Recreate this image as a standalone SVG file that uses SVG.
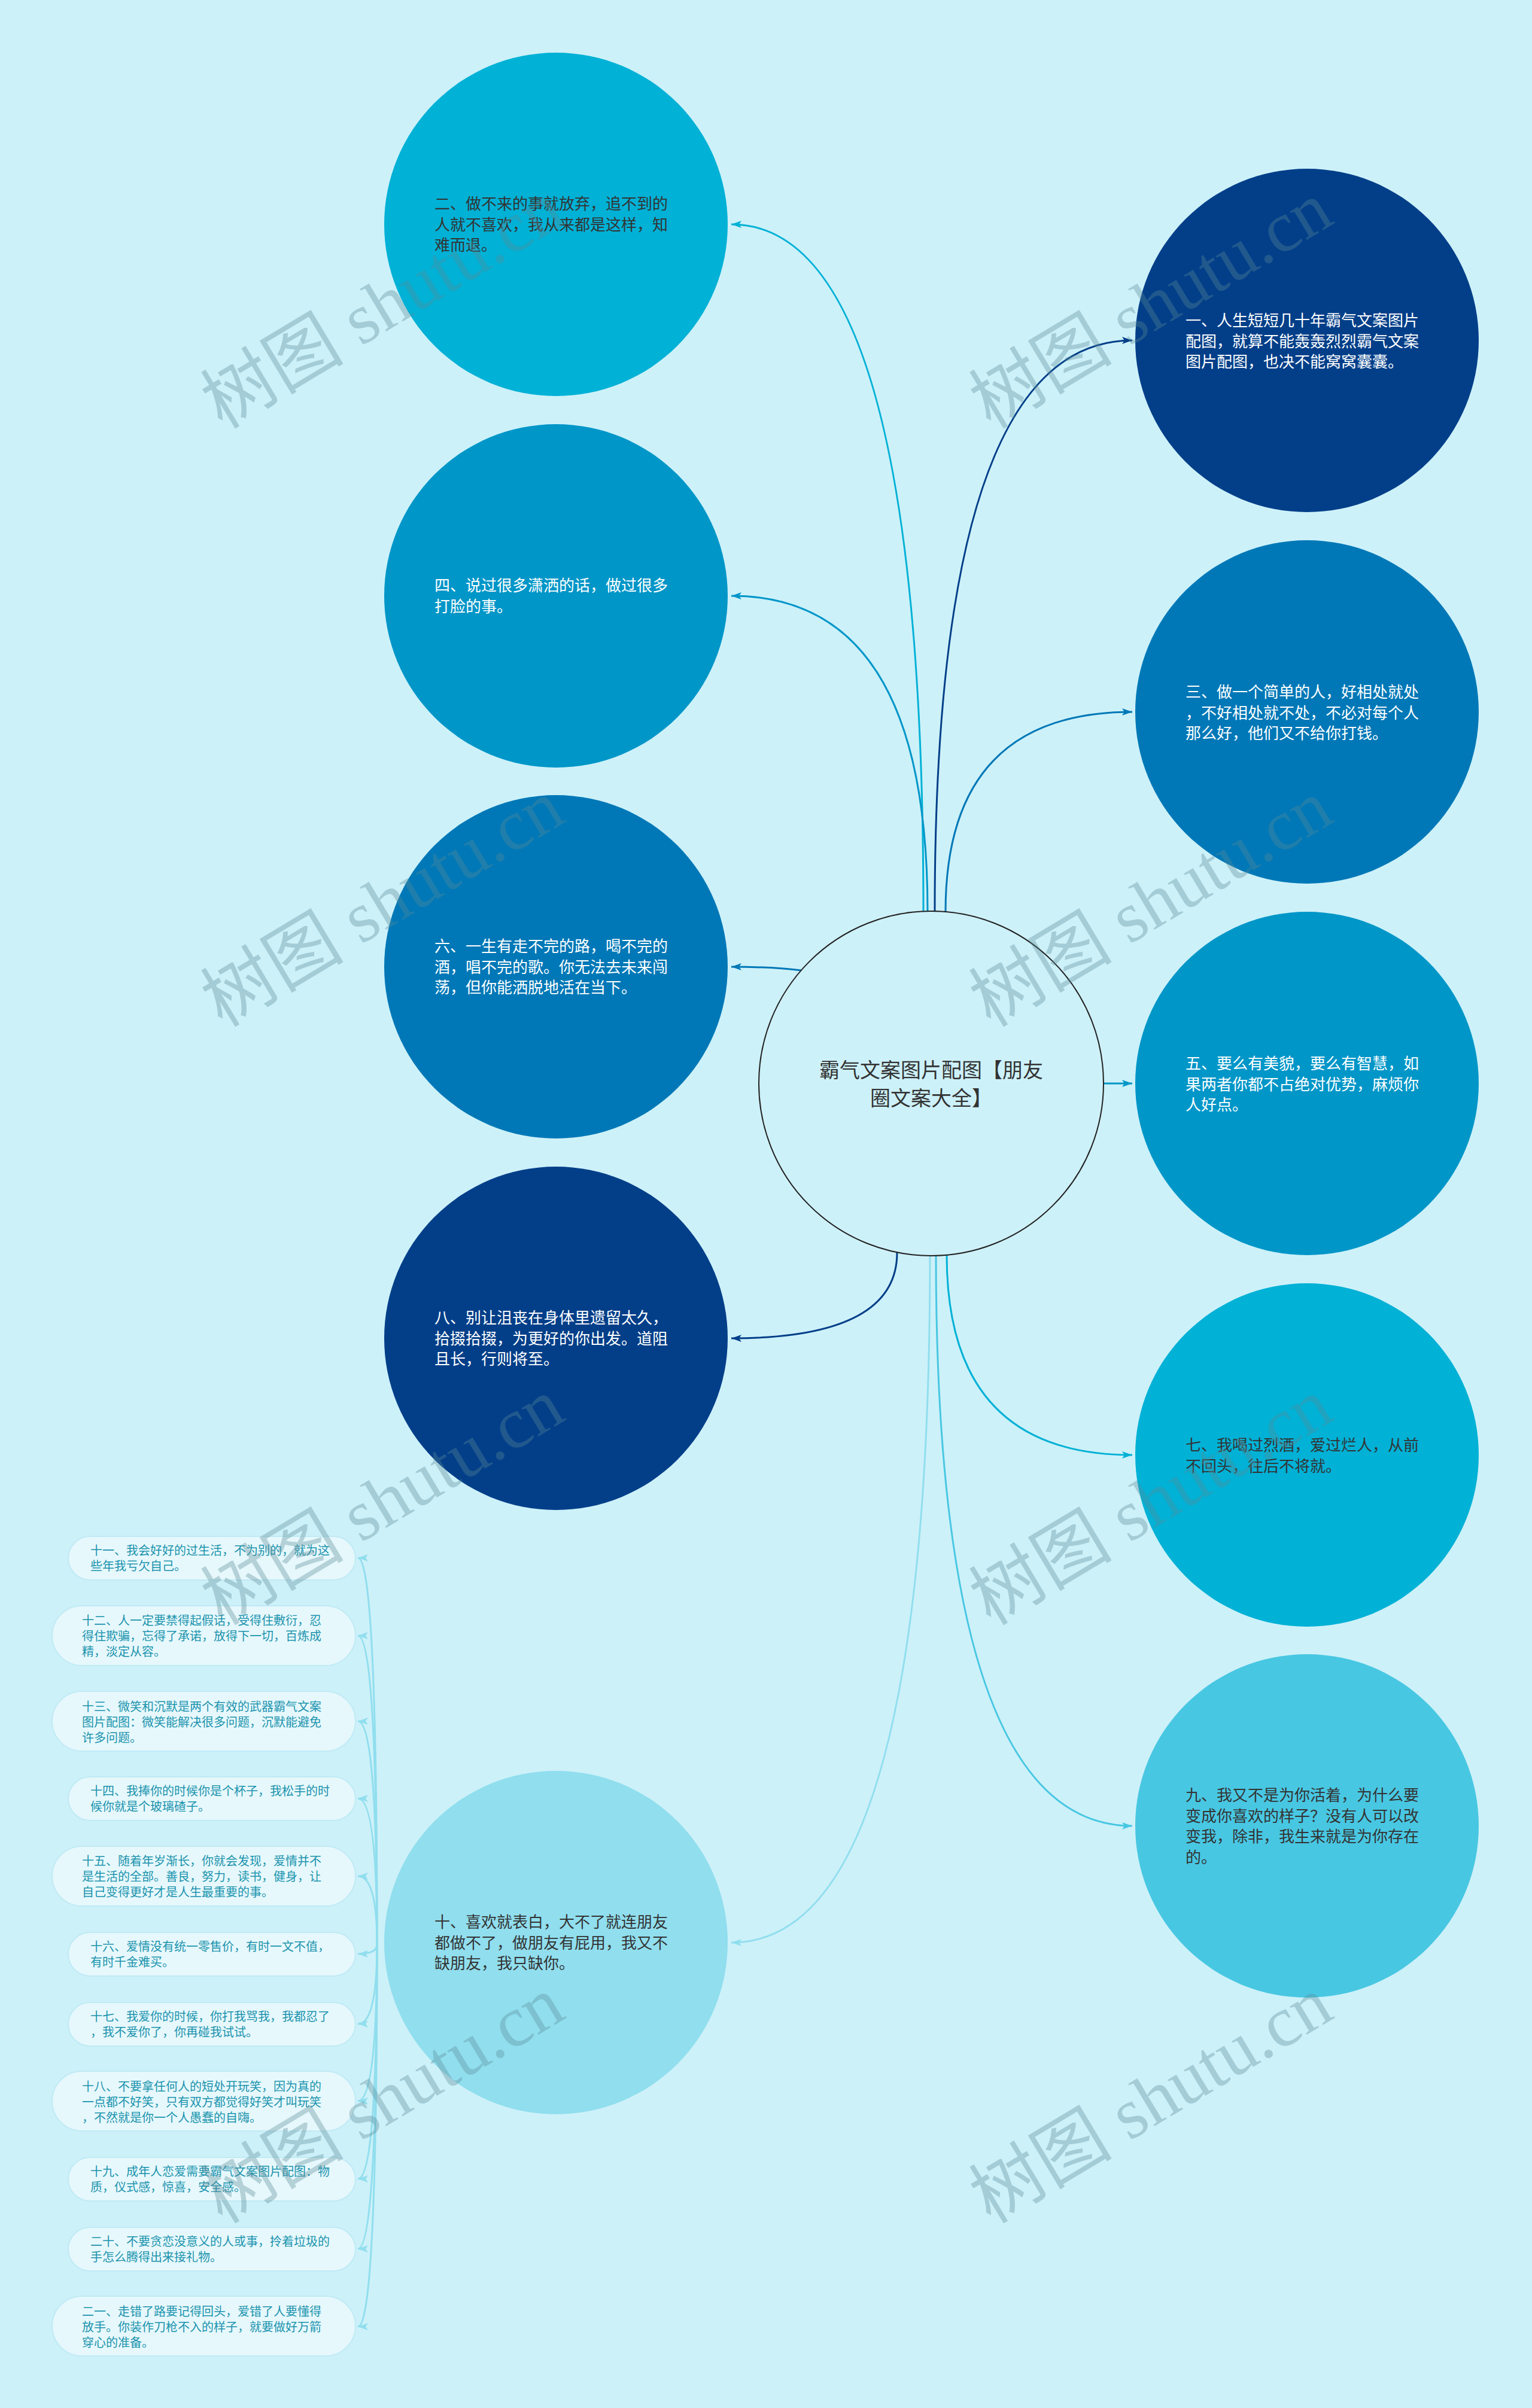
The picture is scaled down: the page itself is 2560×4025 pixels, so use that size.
<svg xmlns="http://www.w3.org/2000/svg" width="2560" height="4025" viewBox="0 0 2560 4025">
<style>
.bg{fill:#cdf1f9}
.t{font-family:"Noto Sans CJK SC","Noto Sans",sans-serif;font-size:26px}
.w{fill:#ffffff}
.d{fill:#333333}
.title{font-family:"Noto Sans CJK SC","Noto Sans",sans-serif;font-size:34px;fill:#333333}
.pill{fill:#e6f8fc;stroke:#bfeaf5;stroke-width:2}
.pt{font-family:"Noto Sans CJK SC","Noto Sans",sans-serif;font-size:20px;fill:#1b93ad}
.c{fill:none;stroke-width:3}
.wm{font-family:"Liberation Serif","Noto Sans CJK SC",serif;font-size:120px;fill:#5a8a96;opacity:0.35}
</style>
<defs>
<marker id="m1" viewBox="0 0 17 12" markerWidth="17" markerHeight="12" refX="17" refY="6" orient="auto" markerUnits="userSpaceOnUse"><path d="M0,0 L17,6 L0,12 L4,6 z" fill="#01b1d6"/></marker>
<marker id="m2" viewBox="0 0 17 12" markerWidth="17" markerHeight="12" refX="17" refY="6" orient="auto" markerUnits="userSpaceOnUse"><path d="M0,0 L17,6 L0,12 L4,6 z" fill="#0096c8"/></marker>
<marker id="m3" viewBox="0 0 17 12" markerWidth="17" markerHeight="12" refX="17" refY="6" orient="auto" markerUnits="userSpaceOnUse"><path d="M0,0 L17,6 L0,12 L4,6 z" fill="#0078b7"/></marker>
<marker id="m4" viewBox="0 0 17 12" markerWidth="17" markerHeight="12" refX="17" refY="6" orient="auto" markerUnits="userSpaceOnUse"><path d="M0,0 L17,6 L0,12 L4,6 z" fill="#033f89"/></marker>
<marker id="m5" viewBox="0 0 17 12" markerWidth="17" markerHeight="12" refX="17" refY="6" orient="auto" markerUnits="userSpaceOnUse"><path d="M0,0 L17,6 L0,12 L4,6 z" fill="#48c7e2"/></marker>
<marker id="m6" viewBox="0 0 17 12" markerWidth="17" markerHeight="12" refX="17" refY="6" orient="auto" markerUnits="userSpaceOnUse"><path d="M0,0 L17,6 L0,12 L4,6 z" fill="#90deee"/></marker>
</defs>
<rect class="bg" x="0" y="0" width="2560" height="4025"/>

<g id="connectors">
<path class="c" stroke="#01b1d6" marker-end="url(#m1)" d="M1543 1524 Q1543 375 1222 375"/>
<path class="c" stroke="#0096c8" marker-end="url(#m2)" d="M1550 1523 Q1550 996 1222 996"/>
<path class="c" stroke="#0078b7" marker-end="url(#m3)" d="M1339 1622 Q1290 1616 1222 1616"/>
<path class="c" stroke="#033f89" marker-end="url(#m4)" d="M1499 2094 Q1499 2237 1222 2237"/>
<path class="c" stroke="#90deee" marker-end="url(#m6)" d="M1554 2099 Q1554 3247 1222 3247"/>
<path class="c" stroke="#033f89" marker-end="url(#m4)" d="M1562 1523 Q1562 569 1892 569"/>
<path class="c" stroke="#0078b7" marker-end="url(#m3)" d="M1580 1524 Q1580 1190 1892 1190"/>
<path class="c" stroke="#0096c8" marker-end="url(#m2)" d="M1845 1811 L1892 1811"/>
<path class="c" stroke="#01b1d6" marker-end="url(#m1)" d="M1582 2098 Q1582 2432 1892 2432"/>
<path class="c" stroke="#48c7e2" marker-end="url(#m5)" d="M1564 2099 Q1564 3052 1892 3052"/>
<g stroke="#90deee" class="c" marker-end="url(#m6)">
<path class="c" d="M630 3250 Q630 2604 598 2604"/>
<path class="c" d="M630 3250 Q630 2734 598 2734"/>
<path class="c" d="M630 3250 Q630 2877 598 2877"/>
<path class="c" d="M630 3250 Q630 3006 598 3006"/>
<path class="c" d="M630 3250 Q630 3136 598 3136"/>
<path class="c" d="M630 3250 Q630 3266 598 3266"/>
<path class="c" d="M630 3250 Q630 3383 598 3383"/>
<path class="c" d="M630 3250 Q630 3512 598 3512"/>
<path class="c" d="M630 3250 Q630 3642 598 3642"/>
<path class="c" d="M630 3250 Q630 3759 598 3759"/>
<path class="c" d="M630 3250 Q630 3889 598 3889"/>
</g>
</g>

<g id="center">
<circle cx="1556" cy="1811" r="288" fill="#cdf1f9" stroke="#222222" stroke-width="2"/>
<text class="title" text-anchor="middle"><tspan x="1556" y="1801">霸气文案图片配图【朋友</tspan><tspan x="1556" y="1848">圈文案大全】</tspan></text>
</g>

<g id="n2">
<circle cx="929" cy="375" r="287" fill="#01b1d6"/>
<text class="t d"><tspan x="726" y="350">二、做不来的事就放弃，追不到的</tspan><tspan x="726" y="385">人就不喜欢，我从来都是这样，知</tspan><tspan x="726" y="419">难而退。</tspan></text>
</g>
<g id="n4">
<circle cx="929" cy="996" r="287" fill="#0096c8"/>
<text class="t w"><tspan x="726" y="988">四、说过很多潇洒的话，做过很多</tspan><tspan x="726" y="1023">打脸的事。</tspan></text>
</g>
<g id="n6">
<circle cx="929" cy="1616" r="287" fill="#0078b7"/>
<text class="t w"><tspan x="726" y="1591">六、一生有走不完的路，喝不完的</tspan><tspan x="726" y="1626">酒，唱不完的歌。你无法去未来闯</tspan><tspan x="726" y="1660">荡，但你能洒脱地活在当下。</tspan></text>
</g>
<g id="n8">
<circle cx="929" cy="2237" r="287" fill="#033f89"/>
<text class="t w"><tspan x="726" y="2212">八、别让沮丧在身体里遗留太久，</tspan><tspan x="726" y="2247">拾掇拾掇，为更好的你出发。道阻</tspan><tspan x="726" y="2281">且长，行则将至。</tspan></text>
</g>
<g id="n10">
<circle cx="929" cy="3247" r="287" fill="#90deee"/>
<text class="t d"><tspan x="726" y="3222">十、喜欢就表白，大不了就连朋友</tspan><tspan x="726" y="3257">都做不了，做朋友有屁用，我又不</tspan><tspan x="726" y="3291">缺朋友，我只缺你。</tspan></text>
</g>

<g id="n1">
<circle cx="2184" cy="569" r="287" fill="#033f89"/>
<text class="t w"><tspan x="1981" y="545">一、人生短短几十年霸气文案图片</tspan><tspan x="1981" y="580">配图，就算不能轰轰烈烈霸气文案</tspan><tspan x="1981" y="614">图片配图，也决不能窝窝囊囊。</tspan></text>
</g>
<g id="n3">
<circle cx="2184" cy="1190" r="287" fill="#0078b7"/>
<text class="t w"><tspan x="1981" y="1166">三、做一个简单的人，好相处就处</tspan><tspan x="1981" y="1201">，不好相处就不处，不必对每个人</tspan><tspan x="1981" y="1235">那么好，他们又不给你打钱。</tspan></text>
</g>
<g id="n5">
<circle cx="2184" cy="1811" r="287" fill="#0096c8"/>
<text class="t w"><tspan x="1981" y="1787">五、要么有美貌，要么有智慧，如</tspan><tspan x="1981" y="1822">果两者你都不占绝对优势，麻烦你</tspan><tspan x="1981" y="1856">人好点。</tspan></text>
</g>
<g id="n7">
<circle cx="2184" cy="2432" r="287" fill="#01b1d6"/>
<text class="t d"><tspan x="1981" y="2425">七、我喝过烈酒，爱过烂人，从前</tspan><tspan x="1981" y="2460">不回头，往后不将就。</tspan></text>
</g>
<g id="n9">
<circle cx="2184" cy="3052" r="287" fill="#48c7e2"/>
<text class="t d"><tspan x="1981" y="3010">九、我又不是为你活着，为什么要</tspan><tspan x="1981" y="3045">变成你喜欢的样子？没有人可以改</tspan><tspan x="1981" y="3079">变我，除非，我生来就是为你存在</tspan><tspan x="1981" y="3114">的。</tspan></text>
</g>

<g id="n11">
<rect class="pill" x="114" y="2568" width="480" height="73" rx="36.5"/>
<text class="pt"><tspan x="151" y="2599">十一、我会好好的过生活，不为别的，就为这</tspan><tspan x="151" y="2625">些年我亏欠自己。</tspan></text>
</g>
<g id="n12">
<rect class="pill" x="87" y="2684" width="507" height="100" rx="50"/>
<text class="pt"><tspan x="137" y="2716">十二、人一定要禁得起假话，受得住敷衍，忍</tspan><tspan x="137" y="2742">得住欺骗，忘得了承诺，放得下一切，百炼成</tspan><tspan x="137" y="2768">精，淡定从容。</tspan></text>
</g>
<g id="n13">
<rect class="pill" x="87" y="2827" width="507" height="100" rx="50"/>
<text class="pt"><tspan x="137" y="2860">十三、微笑和沉默是两个有效的武器霸气文案</tspan><tspan x="137" y="2886">图片配图：微笑能解决很多问题，沉默能避免</tspan><tspan x="137" y="2912">许多问题。</tspan></text>
</g>
<g id="n14">
<rect class="pill" x="114" y="2970" width="480" height="73" rx="36.5"/>
<text class="pt"><tspan x="151" y="3001">十四、我捧你的时候你是个杯子，我松手的时</tspan><tspan x="151" y="3027">候你就是个玻璃碴子。</tspan></text>
</g>
<g id="n15">
<rect class="pill" x="87" y="3086" width="507" height="100" rx="50"/>
<text class="pt"><tspan x="137" y="3118">十五、随着年岁渐长，你就会发现，爱情并不</tspan><tspan x="137" y="3144">是生活的全部。善良，努力，读书，健身，让</tspan><tspan x="137" y="3170">自己变得更好才是人生最重要的事。</tspan></text>
</g>
<g id="n16">
<rect class="pill" x="114" y="3230" width="480" height="73" rx="36.5"/>
<text class="pt"><tspan x="151" y="3261">十六、爱情没有统一零售价，有时一文不值，</tspan><tspan x="151" y="3287">有时千金难买。</tspan></text>
</g>
<g id="n17">
<rect class="pill" x="114" y="3347" width="480" height="73" rx="36.5"/>
<text class="pt"><tspan x="151" y="3378">十七、我爱你的时候，你打我骂我，我都忍了</tspan><tspan x="151" y="3404">，我不爱你了，你再碰我试试。</tspan></text>
</g>
<g id="n18">
<rect class="pill" x="87" y="3462" width="507" height="100" rx="50"/>
<text class="pt"><tspan x="137" y="3495">十八、不要拿任何人的短处开玩笑，因为真的</tspan><tspan x="137" y="3521">一点都不好笑，只有双方都觉得好笑才叫玩笑</tspan><tspan x="137" y="3547">，不然就是你一个人愚蠢的自嗨。</tspan></text>
</g>
<g id="n19">
<rect class="pill" x="114" y="3606" width="480" height="73" rx="36.5"/>
<text class="pt"><tspan x="151" y="3637">十九、成年人恋爱需要霸气文案图片配图：物</tspan><tspan x="151" y="3663">质，仪式感，惊喜，安全感。</tspan></text>
</g>
<g id="n20">
<rect class="pill" x="114" y="3723" width="480" height="73" rx="36.5"/>
<text class="pt"><tspan x="151" y="3754">二十、不要贪恋没意义的人或事，拎着垃圾的</tspan><tspan x="151" y="3780">手怎么腾得出来接礼物。</tspan></text>
</g>
<g id="n21">
<rect class="pill" x="87" y="3838" width="507" height="100" rx="50"/>
<text class="pt"><tspan x="137" y="3871">二一、走错了路要记得回头，爱错了人要懂得</tspan><tspan x="137" y="3897">放手。你装作刀枪不入的样子，就要做好万箭</tspan><tspan x="137" y="3923">穿心的准备。</tspan></text>
</g>

<g id="watermarks">
<text class="wm" text-anchor="middle" transform="translate(660 545) rotate(-31)">树图 shutu.cn</text>
<text class="wm" text-anchor="middle" transform="translate(1944 545) rotate(-31)">树图 shutu.cn</text>
<text class="wm" text-anchor="middle" transform="translate(660 1545) rotate(-31)">树图 shutu.cn</text>
<text class="wm" text-anchor="middle" transform="translate(1944 1545) rotate(-31)">树图 shutu.cn</text>
<text class="wm" text-anchor="middle" transform="translate(660 2545) rotate(-31)">树图 shutu.cn</text>
<text class="wm" text-anchor="middle" transform="translate(1944 2545) rotate(-31)">树图 shutu.cn</text>
<text class="wm" text-anchor="middle" transform="translate(660 3545) rotate(-31)">树图 shutu.cn</text>
<text class="wm" text-anchor="middle" transform="translate(1944 3545) rotate(-31)">树图 shutu.cn</text>
</g>
</svg>
